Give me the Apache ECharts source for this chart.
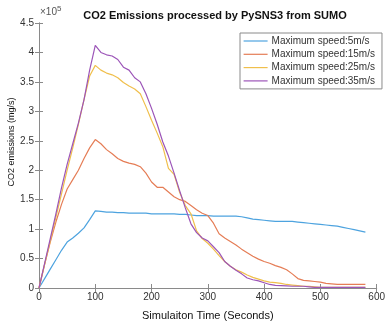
<!DOCTYPE html>
<html>
<head>
<meta charset="utf-8">
<script src="https://cdn.jsdelivr.net/npm/echarts@6/dist/echarts.min.js"></script>
<style>
  html, body { margin: 0; padding: 0; background: #fff; }
  #chart { width: 388px; height: 326px; }
</style>
</head>
<body>
<div id="chart"></div>
<script>
// simulation time (s), sampled every 10 s
const time = [
  0, 10, 20, 30, 40, 50, 60, 70, 80, 90,
  100, 110, 120, 130, 140, 150, 160, 170, 180, 190,
  200, 210, 220, 230, 240, 250, 260, 270, 280, 290,
  300, 310, 320, 330, 340, 350, 360, 370, 380, 390,
  400, 410, 420, 430, 440, 450, 460, 470, 480, 490,
  500, 510, 520, 530, 540, 550, 560, 570, 580
];

// CO2 emissions, in units of 1e5 mg/s
const speed5 = [
  0, 0.16, 0.32, 0.48, 0.64, 0.78, 0.85, 0.93, 1.02, 1.16,
  1.31, 1.30, 1.29, 1.29, 1.28, 1.28, 1.27, 1.27, 1.27, 1.27,
  1.26, 1.26, 1.26, 1.26, 1.26, 1.25, 1.25, 1.24, 1.23, 1.23,
  1.23, 1.22, 1.22, 1.22, 1.22, 1.22, 1.21, 1.19, 1.17, 1.16,
  1.15, 1.14, 1.13, 1.13, 1.13, 1.13, 1.12, 1.11, 1.10, 1.09,
  1.08, 1.07, 1.06, 1.05, 1.03, 1.01, 0.99, 0.97, 0.95
];
const speed15 = [
  0, 0.40, 0.78, 1.12, 1.42, 1.68, 1.84, 2.00, 2.20, 2.38,
  2.52, 2.45, 2.35, 2.28, 2.20, 2.15, 2.12, 2.10, 2.06, 1.95,
  1.80, 1.71, 1.71, 1.63, 1.55, 1.50, 1.47, 1.40, 1.33, 1.27,
  1.23, 1.10, 0.92, 0.85, 0.79, 0.73, 0.66, 0.60, 0.54, 0.49,
  0.45, 0.42, 0.38, 0.35, 0.31, 0.24, 0.16, 0.13, 0.12, 0.11,
  0.10, 0.08, 0.07, 0.06, 0.06, 0.06, 0.06, 0.06, 0.06
];
const speed25 = [
  0, 0.40, 0.80, 1.20, 1.60, 2.00, 2.38, 2.78, 3.20, 3.60,
  3.78, 3.70, 3.65, 3.62, 3.57, 3.49, 3.43, 3.38, 3.30, 3.08,
  2.85, 2.63, 2.40, 2.03, 1.93, 1.62, 1.40, 1.26, 0.97, 0.84,
  0.76, 0.66, 0.55, 0.45, 0.37, 0.31, 0.27, 0.22, 0.18, 0.15,
  0.12, 0.10, 0.09, 0.08, 0.06, 0.05, 0.04, 0.03, 0.03, 0.02,
  0.01, 0.01, 0.01, 0.01, 0.01, 0.01, 0.01, 0.01, 0.01
];
const speed35 = [
  0, 0.42, 0.84, 1.26, 1.70, 2.10, 2.45, 2.80, 3.20, 3.70,
  4.12, 4.00, 3.96, 3.94, 3.88, 3.75, 3.70, 3.57, 3.50, 3.30,
  3.05, 2.78, 2.48, 2.24, 1.95, 1.65, 1.36, 1.09, 0.94, 0.85,
  0.80, 0.70, 0.60, 0.45, 0.37, 0.30, 0.24, 0.17, 0.14, 0.12,
  0.09, 0.06, 0.045, 0.04, 0.035, 0.03, 0.03, 0.03, 0.02, 0.01,
  0.01, 0.01, 0.01, 0.01, 0.01, 0.01, 0.01, 0.01, 0.01
];

const seriesNames = [
  'Maximum speed:5m/s',
  'Maximum speed:15m/s',
  'Maximum speed:25m/s',
  'Maximum speed:35m/s'
];
const seriesValues = [speed5, speed15, speed25, speed35];
const colors = ['#4da3df', '#e57d56', '#f0bf4c', '#9c55b8'];

const font = 'Liberation Sans, Arial, sans-serif';
const axisColor = '#8a8a8a';
const textColor = '#333';

const chart = echarts.init(document.getElementById('chart'), null, {renderer: 'canvas'});

const boxAxis = {
  type: 'value',
  min: 0,
  axisLine: {show: true, lineStyle: {color: axisColor, width: 1}},
  axisTick: {show: true, inside: true, length: 4, lineStyle: {color: axisColor}},
  splitLine: {show: false},
};

chart.setOption({
  animation: false,
  color: colors,
  title: {
    text: 'CO2 Emissions processed by PySNS3 from SUMO',
    left: 210,
    textAlign: 'center',
    top: 5,
    textStyle: {fontFamily: font, fontSize: 11, fontWeight: 'bold', color: '#111'},
  },
  grid: {left: 39, right: 6, top: 23, bottom: 34, containLabel: false},
  legend: {
    orient: 'vertical',
    left: 240,
    top: 33,
    padding: [3, 7, 3, 3],
    itemGap: 3.3,
    itemWidth: 24,
    itemHeight: 10,
    itemStyle: {opacity: 0},
    lineStyle: {width: 1.2},
    borderColor: axisColor,
    borderWidth: 1,
    backgroundColor: '#fff',
    textStyle: {fontFamily: font, fontSize: 10, color: textColor, padding: [0, 0, 0, -1]},
    data: seriesNames,
  },
  xAxis: [
    {
      ...boxAxis,
      max: 600,
      interval: 100,
      position: 'bottom',
      name: 'Simulaiton Time (Seconds)',
      nameLocation: 'middle',
      nameGap: 22,
      nameTextStyle: {fontFamily: font, fontSize: 11, color: '#111'},
      axisLabel: {fontFamily: font, fontSize: 10, color: textColor, margin: 4},
    },
    {
      ...boxAxis,
      max: 600,
      interval: 100,
      position: 'top',
      axisLabel: {show: false},
    },
  ],
  yAxis: [
    {
      ...boxAxis,
      max: 4.5,
      interval: 0.5,
      position: 'left',
      axisLabel: {fontFamily: font, fontSize: 10, color: textColor, margin: 5},
    },
    {
      ...boxAxis,
      max: 4.5,
      interval: 0.5,
      position: 'right',
      axisLabel: {show: false},
    },
  ],
  graphic: [
    {
      type: 'text',
      left: 40,
      top: 5,
      style: {
        text: '×10{sup|5}',
        fontFamily: font,
        fontSize: 10,
        fill: '#555',
        rich: {sup: {fontSize: 8, verticalAlign: 'top', padding: [0, 0, 6, 0], fill: '#555'}},
      },
    },
    {
      type: 'text',
      x: 12,
      y: 142,
      rotation: Math.PI / 2,
      style: {
        text: 'CO2 emissions (mg/s)',
        fontFamily: font,
        fontSize: 9,
        fill: '#111',
        align: 'center',
        verticalAlign: 'middle',
      },
    },
  ],
  series: seriesNames.map((name, i) => ({
    name,
    type: 'line',
    symbol: 'none',
    xAxisIndex: 0,
    yAxisIndex: 0,
    lineStyle: {width: 1.2, color: colors[i]},
    data: time.map((t, j) => [t, seriesValues[i][j]]),
  })),
});
</script>
</body>
</html>
